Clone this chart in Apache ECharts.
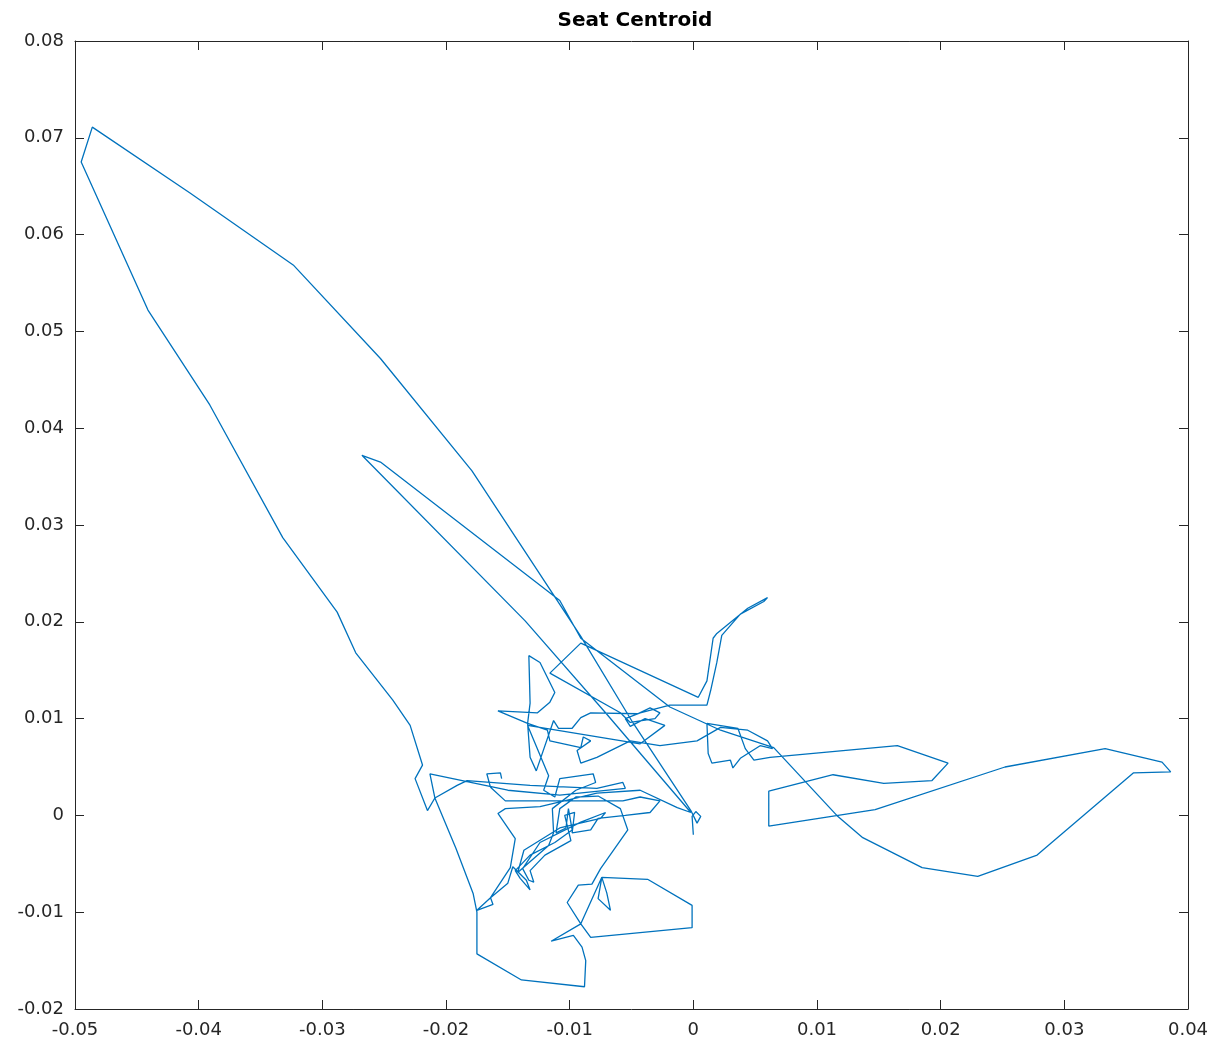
<!DOCTYPE html>
<html>
<head>
<meta charset="utf-8">
<script src="https://cdn.jsdelivr.net/npm/echarts@6/dist/echarts.min.js"></script>
<style>
  html, body { margin: 0; padding: 0; background: #fff; }
  #chart { width: 1215px; height: 1048px; }
</style>
</head>
<body>
<div id="chart"></div>
<script>
// seat centroid trajectory (metres)
const centroidX = [
  0.0000, -0.0001, 0.0002, 0.0006, 0.0003, -0.0002, -0.0049, -0.0091, -0.0179, -0.0253,
  -0.0323, -0.0407, -0.0486, -0.0495, -0.0441, -0.0391, -0.0332, -0.0288, -0.0273, -0.0243,
  -0.0229, -0.0219, -0.0225, -0.0215, -0.0209, -0.0191, -0.0183, -0.0132, -0.0078, -0.0057,
  -0.0055, -0.0108, -0.0150, -0.0213, -0.0209, -0.0192, -0.0178, -0.0175, -0.0175, -0.0139,
  -0.0088, -0.0087, -0.0090, -0.0097, -0.0115, -0.0091, -0.0074, -0.0077, -0.0067, -0.0070,
  -0.0074, -0.0037, -0.0001, -0.0001, -0.0083, -0.0091, -0.0102, -0.0093, -0.0082, -0.0075,
  -0.0053, -0.0059, -0.0077,
  -0.0095, -0.0108, -0.0111, -0.0103, -0.0101, -0.0098, -0.0112, -0.0132, -0.0144, -0.0140,
  -0.0132, -0.0135, -0.0146, -0.0150, -0.0164, -0.0162, -0.0175, -0.0164, -0.0148, -0.0144,
  -0.0158, -0.0152, -0.0124, -0.0078, -0.0043, -0.0013,
  -0.0002, -0.0071, -0.0136, -0.0268, -0.0253, -0.0108, -0.0091, -0.0019, 0.0022, 0.0065,
  0.0116, 0.0137, 0.0185, 0.0230, 0.0278, 0.0356, 0.0386, 0.0379, 0.0333, 0.0252,
  0.0147, 0.0061, 0.0061, 0.0113, 0.0154, 0.0193, 0.0206, 0.0165, 0.0062,
  0.0049, 0.0042, 0.0036, 0.0011, 0.0012, 0.0015, 0.0030, 0.0032, 0.0038, 0.0054,
  0.0064, 0.0060, 0.0044, 0.0022, 0.0003, -0.0027, -0.0051, -0.0078,
  -0.0091, -0.0094, -0.0083, -0.0089, -0.0091, -0.0116, -0.0118, -0.0134, -0.0158, -0.0126,
  -0.0116, -0.0112, -0.0124, -0.0133, -0.0132, -0.0134, -0.0132, -0.0127, -0.0113, -0.0109,
  -0.0098, -0.0091, -0.0083, -0.0045, -0.0035, -0.0027, -0.0031, -0.0051, -0.0059, -0.0116,
  -0.0091,
  0.0004, 0.0011, 0.0016, 0.0019, 0.0044, 0.0060, 0.0057, 0.0038, 0.0023, 0.0019,
  0.0014, 0.0011, -0.0019, -0.0043, -0.0055, -0.0051, -0.0039, -0.0023,
  -0.0043, -0.0134, -0.0117, -0.0121, -0.0112, -0.0108, -0.0081, -0.0079, -0.0095, -0.0114,
  -0.0113, -0.0117, -0.0133, -0.0142, -0.0137, -0.0108, -0.0075, -0.0071, -0.0091, -0.0124,
  -0.0138, -0.0133, -0.0129, -0.0132, -0.0120, -0.0099, -0.0104, -0.0096, -0.0098, -0.0083,
  -0.0077, -0.0055, -0.0035, -0.0027, -0.0043, -0.0057, -0.0152, -0.0164, -0.0167, -0.0156,
  -0.0155
];
const centroidY = [
  -0.0020, -0.0001, 0.0004, -0.0001, -0.0008, 0.0005, 0.0096, 0.0185, 0.0356, 0.0472,
  0.0568, 0.0643, 0.0711, 0.0675, 0.0522, 0.0424, 0.0287, 0.0210, 0.0168, 0.0119,
  0.0093, 0.0052, 0.0038, 0.0005, 0.0018, 0.0031, 0.0036, 0.0031, 0.0028, 0.0034,
  0.0028, 0.0021, 0.0026, 0.0043, 0.0018, -0.0034, -0.0081, -0.0100, -0.0143, -0.0170,
  -0.0177, -0.0150, -0.0136, -0.0124, -0.0130, -0.0112, -0.0064, -0.0086, -0.0098, -0.0080,
  -0.0064, -0.0066, -0.0093, -0.0116, -0.0126, -0.0112, -0.0090, -0.0072, -0.0071, -0.0055,
  -0.0015, 0.0007, 0.0020,
  0.0019, 0.0007, -0.0018, -0.0013, 0.0007, -0.0015, -0.0028, -0.0041, -0.0057, -0.0065,
  -0.0077, -0.0067, -0.0053, -0.0070, -0.0085, -0.0092, -0.0098, -0.0085, -0.0054, -0.0024,
  0.0002, 0.0007, 0.0009, 0.0023, 0.0026, 0.0008,
  0.0003, 0.0106, 0.0201, 0.0372, 0.0365, 0.0222, 0.0183, 0.0112, 0.0088, 0.0070,
  0.0000, -0.0023, -0.0054, -0.0063, -0.0041, 0.0044, 0.0045, 0.0055, 0.0069, 0.0050,
  0.0006, -0.0011, 0.0025, 0.0042, 0.0033, 0.0036, 0.0054, 0.0072, 0.0060,
  0.0057, 0.0069, 0.0090, 0.0095, 0.0064, 0.0054, 0.0057, 0.0049, 0.0059, 0.0072,
  0.0069, 0.0077, 0.0088, 0.0091, 0.0077, 0.0072, 0.0077, 0.0060,
  0.0054, 0.0067, 0.0077, 0.0081, 0.0070, 0.0077, 0.0088, 0.0095, 0.0108, 0.0106,
  0.0117, 0.0127, 0.0158, 0.0165, 0.0116, 0.0095, 0.0060, 0.0046, 0.0098, 0.0090,
  0.0090, 0.0101, 0.0106, 0.0105, 0.0111, 0.0106, 0.0100, 0.0096, 0.0106, 0.0147,
  0.0178,
  0.0122, 0.0139, 0.0183, 0.0188, 0.0214, 0.0225, 0.0221, 0.0208, 0.0186, 0.0158,
  0.0129, 0.0114, 0.0114, 0.0106, 0.0100, 0.0092, 0.0100, 0.0093,
  0.0074, 0.0093, 0.0041, 0.0026, 0.0019, 0.0038, 0.0043, 0.0034, 0.0026, 0.0007,
  -0.0018, -0.0031, -0.0049, -0.0059, -0.0036, -0.0013, -0.0003, 0.0003, -0.0007, -0.0028,
  -0.0055, -0.0067, -0.0069, -0.0057, -0.0041, -0.0026, 0.0000, 0.0003, -0.0018, -0.0015,
  -0.0003, 0.0000, 0.0003, 0.0015, 0.0019, 0.0015, 0.0015, 0.0029, 0.0043, 0.0044,
  0.0038
];
const xTicks = [-0.05, -0.04, -0.03, -0.02, -0.01, 0, 0.01, 0.02, 0.03, 0.04];
const yTicks = [-0.02, -0.01, 0, 0.01, 0.02, 0.03, 0.04, 0.05, 0.06, 0.07, 0.08];

const points = centroidX.map((x, i) => [x, centroidY[i]]);
const axisColor = '#262626';
const fontFam = 'DejaVu Sans, Liberation Sans, sans-serif';
const fmt = (v) => String(+v.toFixed(2));

function boxAxis(pos, ticks, showLabels) {
  return {
    type: 'value',
    position: pos,
    min: ticks[0],
    max: ticks[ticks.length - 1],
    interval: 0.01,
    axisLine: { show: true, onZero: false, lineStyle: { color: axisColor, width: 1 } },
    axisTick: { show: true, inside: true, length: 9, lineStyle: { color: axisColor } },
    axisLabel: {
      show: showLabels,
      color: axisColor,
      fontFamily: fontFam,
      fontSize: 18,
      margin: pos === 'bottom' ? 12 : 11,
      formatter: fmt
    },
    splitLine: { show: false }
  };
}

const chart = echarts.init(document.getElementById('chart'), null, { renderer: 'canvas' });
chart.setOption({
  animation: false,
  backgroundColor: '#ffffff',
  title: {
    text: 'Seat Centroid',
    left: 630,
    textAlign: 'center',
    top: 6,
    textStyle: {
      fontFamily: fontFam,
      fontSize: 20,
      fontWeight: 'bold',
      color: '#000'
    }
  },
  grid: { left: 75, right: 27, top: 41, bottom: 39, containLabel: false },
  xAxis: [boxAxis('bottom', xTicks, true), boxAxis('top', xTicks, false)],
  yAxis: [boxAxis('left', yTicks, true), boxAxis('right', yTicks, false)],
  series: [{
    type: 'line',
    data: points,
    showSymbol: false,
    symbol: 'none',
    lineStyle: { color: '#0072BD', width: 1.3 },
    z: 3
  }]
});
</script>
</body>
</html>
